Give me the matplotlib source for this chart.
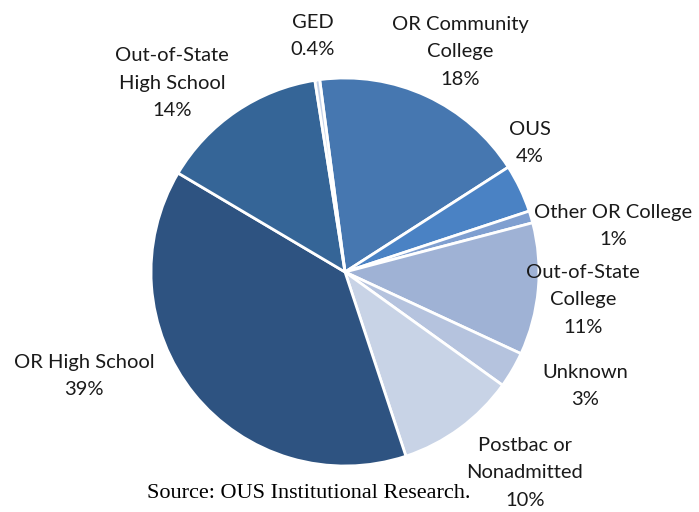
import matplotlib.pyplot as plt

# data (clockwise from the top)
categories = ["OR Community\nCollege", "OUS", "Other OR College", "Out-of-State\nCollege",
              "Unknown", "Postbac or\nNonadmitted", "OR High School",
              "Out-of-State\nHigh School", "GED"]
shares = [18.0, 4.0, 1.0, 11.0, 3.0, 10.0, 38.6, 14.0, 0.4]
colors = ["#4677b0", "#4a82c4", "#7f9fd0", "#9fb2d5", "#b5c3de",
          "#c8d3e6", "#2e5381", "#356597", "#c5d2e8"]

# label anchor positions in pixels (x, y from top)
label_pos = [(460, 52), (530, 143), (613, 226), (583, 300), (585, 386),
             (525, 473), (84, 376), (172, 83), (313, 36)]

W, H = 699, 512
fig = plt.figure(figsize=(W / 100, H / 100), dpi=100)
ax = fig.add_axes([0, 0, 1, 1])

ax.pie(shares, colors=colors, startangle=97.5, counterclock=False,
       center=(345, H - 272), radius=194, frame=True,
       wedgeprops=dict(edgecolor='white', linewidth=2.0))
ax.set_xlim(0, W)
ax.set_ylim(0, H)
ax.set_aspect('equal')
ax.axis('off')

for cat, v, (px, py) in zip(categories, shares, label_pos):
    pct = "%.1f%%" % v if v < 1 else "%.0f%%" % v
    ax.text(px, H - py, cat + "\n" + pct, ha='center', va='center',
            fontsize=14.5, family='Lato', color='#1a1a1a', linespacing=1.75)

ax.text(147, H - 494, "Source: OUS Institutional Research.", ha='left', va='center',
        fontsize=16, family='Liberation Serif', color='black')

fig.savefig("out.png", dpi=100)
